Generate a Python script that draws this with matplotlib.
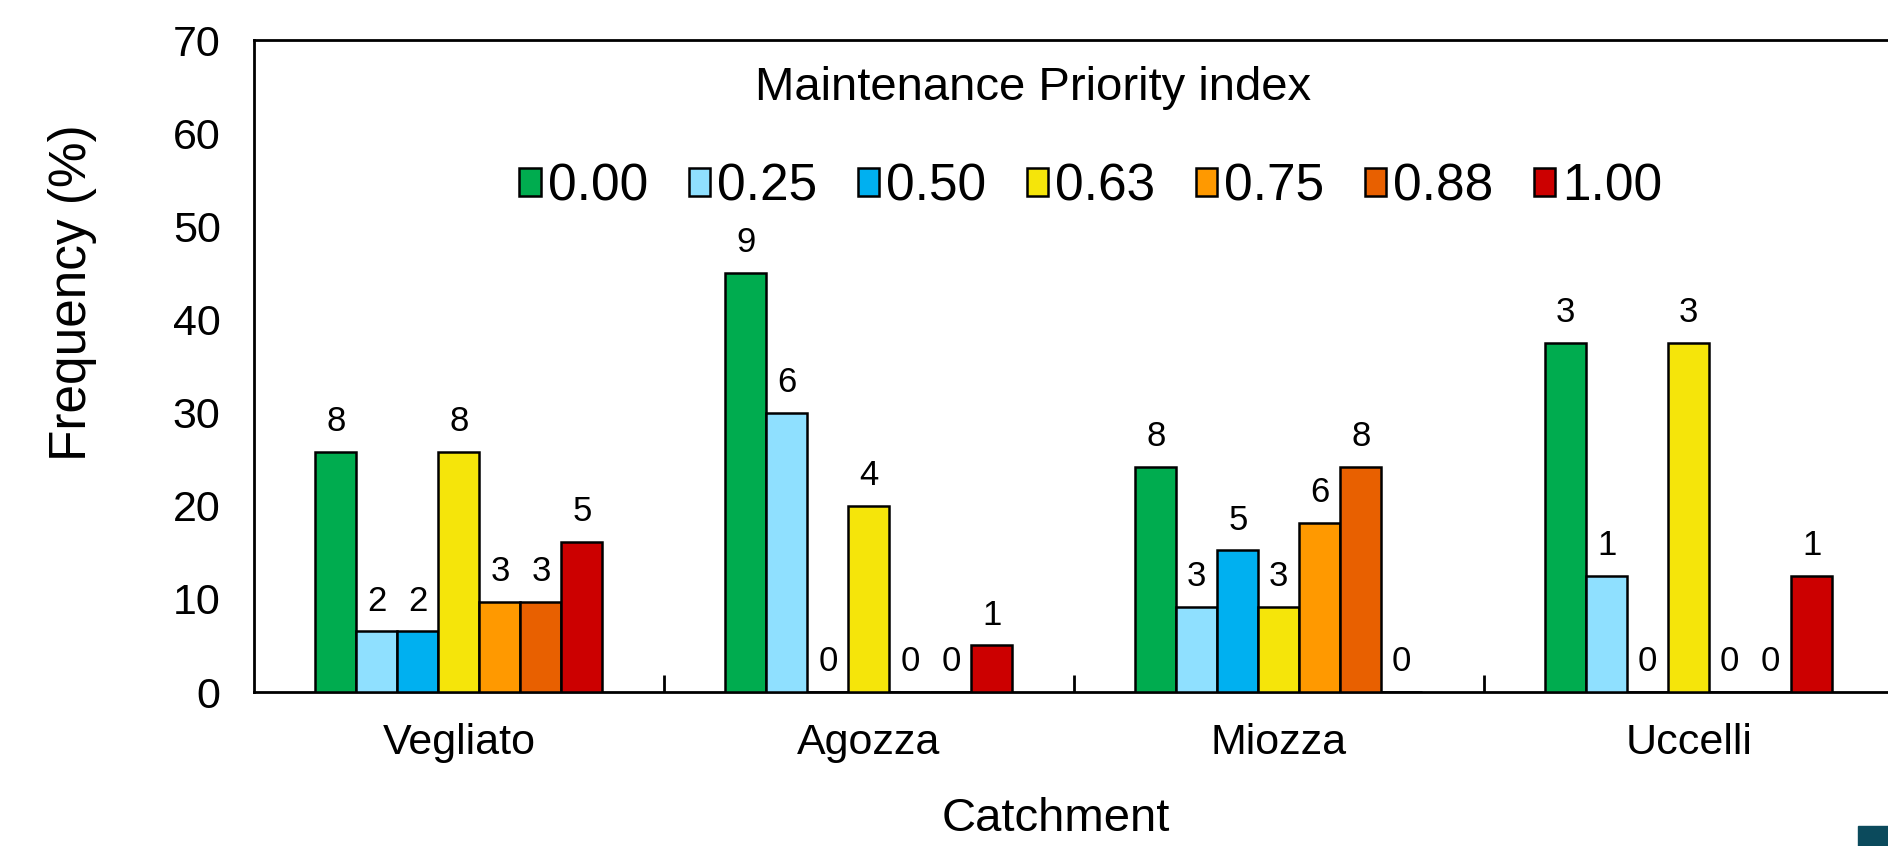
import numpy as np
import matplotlib
matplotlib.use('Agg')
from matplotlib import pyplot as plt
from matplotlib.patches import Rectangle

plt.rcParams['font.family'] = ['Liberation Sans', 'DejaVu Sans']

# data
catchments = ['Vegliato', 'Agozza', 'Miozza', 'Uccelli']
mpi_classes = ['0.00', '0.25', '0.50', '0.63', '0.75', '0.88', '1.00']
colours = ['#00ac4f', '#8fe0ff', '#00b0f0', '#f5e50a', '#ff9900', '#e86000', '#cc0000']

# frequency (%) per class, one list per class (over catchments)
freq_000 = [25.8, 45.0, 24.2, 37.5]
freq_025 = [6.5, 30.0, 9.1, 12.5]
freq_050 = [6.5, 0.0, 15.2, 0.0]
freq_063 = [25.8, 20.0, 9.1, 37.5]
freq_075 = [9.7, 0.0, 18.2, 0.0]
freq_088 = [9.7, 0.0, 24.2, 0.0]
freq_100 = [16.1, 5.0, 0.0, 12.5]

# counts shown above the bars
n_000 = [8, 9, 8, 3]
n_025 = [2, 6, 3, 1]
n_050 = [2, 0, 5, 0]
n_063 = [8, 4, 3, 3]
n_075 = [3, 0, 6, 0]
n_088 = [3, 0, 8, 0]
n_100 = [5, 1, 0, 1]

freqs = [freq_000, freq_025, freq_050, freq_063, freq_075, freq_088, freq_100]
counts = [n_000, n_025, n_050, n_063, n_075, n_088, n_100]

fig = plt.figure(figsize=(18.88, 8.46), dpi=100)
ax = fig.add_axes([0.1345, 0.182, 0.8685, 0.7707])

x = np.arange(len(catchments))
w = 0.1
for k in range(len(mpi_classes)):
    pos = x + (k - 3) * w
    ax.bar(pos, freqs[k], width=w, color=colours[k], edgecolor='black',
           linewidth=1.8, label=mpi_classes[k], zorder=3)
    for px, h, n in zip(pos, freqs[k], counts[k]):
        ax.annotate('%d' % n, (px, h), xytext=(0, 10), textcoords='offset points',
                    ha='center', va='bottom', fontsize=25)

ax.set_xlim(-0.5, 3.5)
ax.set_ylim(0, 70)
ax.set_yticks(np.arange(0, 71, 10))
ax.tick_params(axis='y', length=0, pad=24, labelsize=31)

# category names centred, tick marks between groups
ax.set_xticks(x)
ax.set_xticklabels(catchments, fontsize=31)
ax.tick_params(axis='x', which='major', length=0, pad=22)
ax.set_xticks(x[:-1] + 0.5, minor=True)
ax.tick_params(axis='x', which='minor', direction='in', length=12, width=2)

for s in ax.spines.values():
    s.set_linewidth(2)

ax.set_ylabel('Frequency (%)', fontsize=37)
ax.yaxis.set_label_coords(-0.096, 0.613)
fig.text(1056 / 1888, 1 - 819 / 846, 'Catchment', fontsize=34, ha='center', va='center')

fig.text(1033 / 1888, 1 - 88 / 846, 'Maintenance Priority index', fontsize=34,
         ha='center', va='center')
leg = ax.legend(loc='center', bbox_to_anchor=(1091 / 1888, 1 - 187 / 846),
                bbox_transform=fig.transFigure, ncol=7, frameon=False, fontsize=37,
                handlelength=0.42, handleheight=0.45, handletextpad=0.14,
                columnspacing=0.78, borderaxespad=0)

# dark square in the bottom right corner of the screenshot
fig.patches.append(Rectangle((1858 / 1888, 0), 30 / 1888, 20 / 846,
                             transform=fig.transFigure, color='#0b4a5c', zorder=10))

plt.savefig('out.png', dpi=100)
